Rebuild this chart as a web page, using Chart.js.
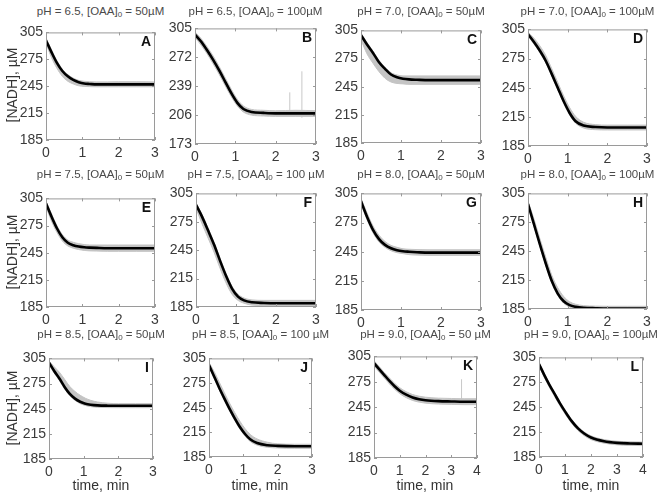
<!DOCTYPE html>
<html>
<head>
<meta charset="utf-8">
<script src="https://cdn.jsdelivr.net/npm/chart.js@4.4.0/dist/chart.umd.min.js"></script>
<style>
  body { margin: 0; background: #fff; width: 658px; height: 494px; position: relative; overflow: hidden;
         font-family: "Liberation Sans", Arial, sans-serif; }
  canvas { position: absolute; }
  .ttl { position: absolute; font-size: 11.5px; color: #4a4a4a; white-space: nowrap; transform: translate(-50%, -50%); }
  .ttl sub { font-size: 8px; vertical-align: -2px; }
  .lbl { position: absolute; font-size: 14px; font-weight: bold; color: #111; line-height: 14px; }
  .ylab { position: absolute; font-size: 14px; color: #333; white-space: nowrap; transform: translate(-50%, -50%) rotate(-90deg); }
  .xlab { position: absolute; font-size: 14px; color: #333; white-space: nowrap; transform: translate(-50%, -50%); }
</style>
</head>
<body>
<script>
// time grids (min)
const time3 = [0, 0.15, 0.3, 0.45, 0.6, 0.75, 0.9, 1.05, 1.2, 1.4, 1.7, 2.0, 2.5, 3.0];
const time4 = [0, 0.2, 0.4, 0.6, 0.8, 1.0, 1.25, 1.5, 1.75, 2.0, 2.5, 3.0, 3.5, 4.0];

const ticksStd = [185, 215, 245, 275, 305];
const ticksB = [173, 206, 239, 272, 305];

// [NADH] fit (black) and data band (grey lo / hi)
const fitA = [296, 283, 271, 262, 256, 252, 249.5, 248, 247.5, 247, 247, 247, 247, 247];
const loA  = [293, 277, 265, 256, 250.5, 247.5, 245.5, 244.8, 244.5, 244.3, 244.3, 244.3, 244.3, 244.3];
const hiA  = [299, 285.5, 273.5, 264, 258, 254, 251.5, 250.5, 250, 249.8, 249.8, 250, 250, 249.8];

const fitB = [298, 290, 280, 269, 257, 244, 231, 220, 213, 209.5, 208.5, 208, 208, 208];
const loB  = [295, 286, 276, 264.5, 252.5, 239.5, 227, 216.5, 209.5, 206, 205, 204.5, 204.5, 204.5];
const hiB  = [301, 293.5, 284, 273.5, 261.5, 248.5, 235.5, 224, 216.5, 212.5, 211.5, 211, 211.5, 211];

const fitC = [300, 290, 281, 271, 264, 258, 255, 253.5, 252.8, 252.4, 252, 252, 252, 252];
const loC  = [295, 280, 270, 261, 254, 250, 248.5, 248, 247.5, 247.5, 247.5, 247.5, 247.5, 247.5];
const hiC  = [302, 292, 283, 273, 266, 260, 257.5, 256.5, 256.5, 256.5, 256.5, 256.5, 256.5, 256.5];

const fitD = [300, 292, 283, 272.5, 259, 245, 231, 219, 210.5, 206, 204.5, 204, 204, 204];
const loD  = [298, 290, 281, 270.5, 257, 243, 229, 217, 208.5, 203.5, 201.8, 201.5, 201.5, 201.5];
const hiD  = [302, 296, 288, 278, 264.5, 250.5, 236.5, 224.5, 215.5, 209.5, 207, 206.5, 206.5, 206.5];

const fitE = [299.5, 285, 272, 262, 256, 253.3, 251.8, 251, 250.6, 250.3, 250, 250, 250, 250];
const loE  = [296, 280, 267.5, 258, 252.5, 250, 248.5, 247.5, 247, 246.8, 246.5, 246.5, 246.5, 246.5];
const hiE  = [302, 288, 275, 265, 259, 256.5, 255, 254, 253.5, 253.5, 253.5, 253.5, 253.5, 253.5];

const fitF = [293, 280.5, 266, 251, 234, 218, 204.5, 196, 192, 190, 189.3, 189, 189, 189];
const loF  = [289, 273, 258, 243, 226, 210.5, 198.5, 192, 189, 187, 186.5, 186.5, 186.5, 186.5];
const hiF  = [295, 283, 268.5, 253.5, 236.5, 220.5, 207, 198.5, 194.5, 192.5, 192, 192, 192, 192];

const fitG = [297, 281, 267.5, 258, 252, 248.5, 246.5, 245.5, 245, 244.5, 244, 244, 244, 244];
const loG  = [294, 278, 264.5, 255, 249.5, 246, 244, 243, 242, 241.5, 241.2, 241.2, 241.2, 241.2];
const hiG  = [300, 285, 271.5, 262, 255.5, 251.5, 249.5, 248, 247.5, 247.2, 247, 247, 247, 247];

const fitH = [294, 273, 252, 232, 214, 201, 193, 189, 187.3, 186.3, 185.8, 185.5, 185.5, 185.5];
const loH  = [292, 271, 250, 230, 212, 199, 191, 187, 185.3, 184.3, 184, 184, 184, 184];
const hiH  = [297, 278.5, 258, 238.5, 220, 207, 198, 192.5, 190, 188.5, 188, 187.8, 187.8, 187.8];

const fitI = [300, 290, 281, 271, 262.6, 257, 253.3, 251, 249.8, 249, 248.6, 248.5, 248.5, 248.5];
const loI  = [297, 287.5, 278.5, 268.5, 260.5, 255, 251, 248.8, 247.5, 246.7, 246.3, 246.2, 246.2, 246.2];
const hiI  = [302, 295, 288.5, 280, 271.5, 265.5, 261, 257.5, 255, 253, 251.5, 251, 251, 251];

const fitJ = [297, 283, 269, 256, 243.5, 232, 221.5, 213, 206.5, 202, 199.3, 198.5, 198, 198];
const loJ  = [294.5, 280.5, 266.5, 253.5, 241, 229.5, 219, 210.5, 204, 199.5, 196.8, 196, 195.5, 195.5];
const hiJ  = [300, 289, 276, 263, 250.5, 239, 228.5, 219.5, 212.5, 207, 203, 201, 200.5, 200.5];

const fitK = [297, 290, 283, 276, 269.8, 264.5, 259.8, 256.5, 254.5, 253.3, 252.2, 251.8, 251.5, 251.5];
const loK  = [294, 286.5, 279.5, 272.5, 266.3, 261, 256.3, 253, 251, 249.8, 248.7, 248.3, 248, 248];
const hiK  = [300, 293, 286, 279.5, 273.3, 268, 263.3, 260, 258, 256.8, 255.7, 255.3, 255, 255];

const fitL = [297, 284, 272, 261, 250, 240, 228.5, 219.5, 213, 208.5, 204, 202, 201.3, 201];
const loL  = [294.5, 281, 269, 258, 247, 237, 225.8, 217, 210.5, 206, 201.7, 199.7, 199, 198.7];
const hiL  = [299, 286, 274, 263, 252, 242, 230.5, 221.5, 215, 210.5, 206, 204, 203.3, 203];

// outlier spikes in the raw traces: [time, from, to]
const spikesB = [[2.35, 205, 232], [2.65, 203, 256]];
const spikesK = [[3.4, 249, 278]];

const titles = [
  ["6.5", "50µM"], ["6.5", "100µM"], ["7.0", "50µM"], ["7.0", "100µM"],
  ["7.5", "50µM"], ["7.5", "100 µM"], ["8.0", "50µM"], ["8.0", "100µM"],
  ["8.5", "50µM"], ["8.5", "100 µM"], ["9.0", "50 µM"], ["9.0", "100µM"]
];
const letters = ["A", "B", "C", "D", "E", "F", "G", "H", "I", "J", "K", "L"];

// plot area rectangles [left, top, right, bottom] in page pixels
const rects = [
  [46, 31, 155, 140], [195, 27, 316, 144], [361, 29, 481, 143], [528, 28, 647, 146],
  [46, 197, 155, 307], [196, 192, 316, 307], [361, 192, 481, 310], [528, 192, 647, 309],
  [49, 357, 153, 459], [209, 357, 312, 457], [374, 355, 477, 458], [539, 356, 643, 457]
];
const titleY = [12, 175, 335];

const panels = [
  { t: time3, fit: fitA, lo: loA, hi: hiA, yt: ticksStd, xmax: 3 },
  { t: time3, fit: fitB, lo: loB, hi: hiB, yt: ticksB, xmax: 3, spikes: spikesB },
  { t: time3, fit: fitC, lo: loC, hi: hiC, yt: ticksStd, xmax: 3 },
  { t: time3, fit: fitD, lo: loD, hi: hiD, yt: ticksStd, xmax: 3 },
  { t: time3, fit: fitE, lo: loE, hi: hiE, yt: ticksStd, xmax: 3 },
  { t: time3, fit: fitF, lo: loF, hi: hiF, yt: ticksStd, xmax: 3 },
  { t: time3, fit: fitG, lo: loG, hi: hiG, yt: ticksStd, xmax: 3 },
  { t: time3, fit: fitH, lo: loH, hi: hiH, yt: ticksStd, xmax: 3 },
  { t: time3, fit: fitI, lo: loI, hi: hiI, yt: ticksStd, xmax: 3 },
  { t: time3, fit: fitJ, lo: loJ, hi: hiJ, yt: ticksStd, xmax: 3 },
  { t: time4, fit: fitK, lo: loK, hi: hiK, yt: ticksStd, xmax: 4, spikes: spikesK },
  { t: time4, fit: fitL, lo: loL, hi: hiL, yt: ticksStd, xmax: 4 }
];

const GREY = "#c4c4c4";
const PAD_L = 42, PAD_T = 10, PAD_R = 12, PAD_B = 25;
const TICK_FONT = { family: "Liberation Sans", size: 14 };

// box round the axes plus short inward MATLAB-style ticks
const boxPlugin = {
  id: "box",
  afterDraw(chart) {
    const { ctx, chartArea: a, scales } = chart;
    ctx.save();
    ctx.strokeStyle = "#9a9a9a";
    ctx.lineWidth = 1;
    ctx.strokeRect(a.left + 0.5, a.top + 0.5, a.right - a.left - 1, a.bottom - a.top - 1);
    ctx.beginPath();
    scales.x.ticks.forEach(tk => {
      const px = Math.round(scales.x.getPixelForValue(tk.value)) + 0.5;
      ctx.moveTo(px, a.bottom); ctx.lineTo(px, a.bottom - 3);
      ctx.moveTo(px, a.top); ctx.lineTo(px, a.top + 3);
    });
    scales.y.ticks.forEach(tk => {
      const py = Math.round(scales.y.getPixelForValue(tk.value)) + 0.5;
      ctx.moveTo(a.left, py); ctx.lineTo(a.left + 3, py);
      ctx.moveTo(a.right, py); ctx.lineTo(a.right - 3, py);
    });
    ctx.stroke();
    ctx.restore();
  }
};

function pts(t, v) { return t.map((x, i) => ({ x, y: v[i] })); }

function addDiv(cls, html, css) {
  const d = document.createElement("div");
  d.className = cls;
  d.innerHTML = html;
  Object.assign(d.style, css);
  document.body.appendChild(d);
}

panels.forEach((p, i) => {
  const [l, t, r, b] = rects[i];
  const cv = document.createElement("canvas");
  const w = r - l + PAD_L + PAD_R, h = b - t + PAD_T + PAD_B;
  cv.width = w; cv.height = h;
  cv.style.left = (l - PAD_L) + "px";
  cv.style.top = (t - PAD_T) + "px";
  cv.style.width = w + "px"; cv.style.height = h + "px";
  document.body.appendChild(cv);

  const datasets = [
    { data: pts(p.t, p.fit), borderColor: "#000", borderWidth: 2.6, pointRadius: 0,
      cubicInterpolationMode: "monotone", fill: false, order: 0 },
    { data: pts(p.t, p.lo), borderColor: GREY, borderWidth: 1, pointRadius: 0,
      cubicInterpolationMode: "monotone", fill: false, order: 2 },
    { data: pts(p.t, p.hi), borderColor: GREY, borderWidth: 1, pointRadius: 0,
      cubicInterpolationMode: "monotone", fill: "-1", backgroundColor: GREY, order: 1 }
  ];
  (p.spikes || []).forEach(s => {
    datasets.push({ data: [{ x: s[0], y: s[1] }, { x: s[0], y: s[2] }], borderColor: "#c8c8c8",
      borderWidth: 1, pointRadius: 0, fill: false, order: 3 });
  });

  const yt = p.yt;
  new Chart(cv, {
    type: "line",
    data: { datasets },
    plugins: [boxPlugin],
    options: {
      responsive: false,
      animation: false,
      devicePixelRatio: 1,
      layout: { padding: { left: 0, top: PAD_T, right: PAD_R, bottom: 0 } },
      plugins: { legend: { display: false }, tooltip: { enabled: false } },
      scales: {
        x: {
          type: "linear", min: 0, max: p.xmax,
          grid: { display: false, drawTicks: false },
          border: { display: false },
          ticks: { stepSize: 1, padding: 5, color: "#3a3a3a", font: TICK_FONT },
          afterFit: s => { s.height = PAD_B; }
        },
        y: {
          min: yt[0], max: yt[yt.length - 1],
          grid: { display: false, drawTicks: false },
          border: { display: false },
          afterBuildTicks: s => { s.ticks = yt.map(v => ({ value: v })); },
          ticks: { padding: 3, color: "#3a3a3a", font: TICK_FONT },
          afterFit: s => { s.width = PAD_L; }
        }
      }
    }
  });

  const row = Math.floor(i / 4);
  addDiv("ttl", "pH = " + titles[i][0] + ", [OAA]<sub>0</sub> = " + titles[i][1],
    { left: ((l + r) / 2) + "px", top: titleY[row] + "px" });
  addDiv("lbl", letters[i], { right: (658 - r + 4) + "px", top: (t + 3) + "px" });
});

[85, 252, 408].forEach(y => addDiv("ylab", "[NADH], µM", { left: "12px", top: y + "px" }));
[101, 260, 425, 591].forEach(x => addDiv("xlab", "time, min", { left: x + "px", top: "485px" }));
</script>
</body>
</html>
